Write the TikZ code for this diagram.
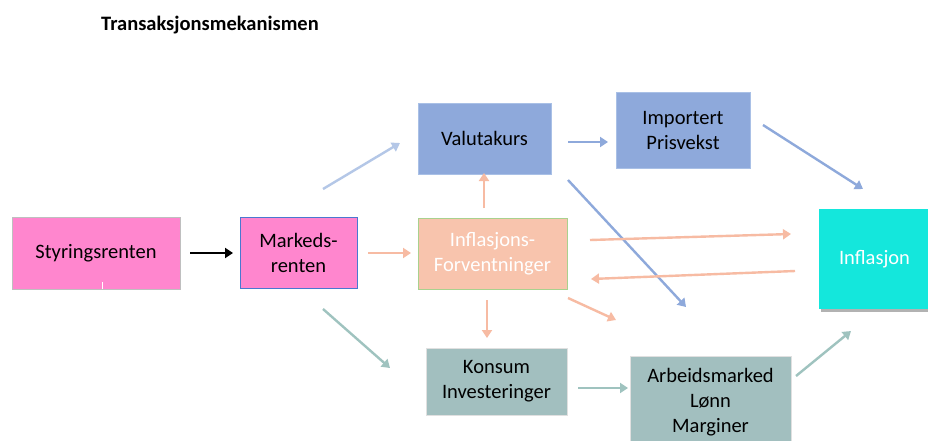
\documentclass[tikz,border=0pt]{standalone}
\usepackage{fontspec}
\setmainfont{Carlito}
\usetikzlibrary{arrows.meta}
\definecolor{pinkbox}{HTML}{FF86CE}
\definecolor{bluebox}{HTML}{8EA9DB}
\definecolor{blueedge}{HTML}{A9C0E6}
\definecolor{salmonbox}{HTML}{F8C4AD}
\definecolor{greenedge}{HTML}{A9D18E}
\definecolor{cyanbox}{HTML}{14E7DC}
\definecolor{tealbox}{HTML}{A2BFBF}
\definecolor{lightbluearrow}{HTML}{B4C7E7}
\definecolor{bluearrow}{HTML}{8EA9DB}
\definecolor{salmonarrow}{HTML}{F7BBA3}
\definecolor{tealarrow}{HTML}{9FC3BF}
\definecolor{markedge}{HTML}{4A78D0}
\tikzset{
  box/.style={rectangle, inner sep=0pt, align=center, font=\fontsize{20.5}{25}\selectfont, line width=0.8pt},
  arr/.style={line width=2.4pt, -{Triangle[length=8pt,width=10pt]}},
}
\begin{document}
\begin{tikzpicture}[x=1pt,y=-1pt]
\useasboundingbox (0,0) rectangle (928,440);
\fill[white] (0,0) rectangle (928,440);

\node[font=\fontsize{20.5}{24}\selectfont\bfseries, anchor=west, inner sep=0pt] (title) at (101,25) {Transaksjonsmekanismen};

\node[box, fill=pinkbox, draw=black!25, minimum width=168pt, minimum height=72pt] (styr) at (96,253) {Styringsrenten};
\draw[white, line width=1pt] (102,282) -- (102,289);
\node[box, fill=pinkbox, draw=markedge, minimum width=117pt, minimum height=71pt] (mark) at (298.5,252.5) {Markeds-\\renten};
\node[box, fill=bluebox, draw=blueedge, minimum width=133pt, minimum height=71pt] (valuta) at (484.5,138.5) {Valutakurs};
\node[box, fill=bluebox, draw=blueedge, minimum width=134pt, minimum height=76pt] (import) at (683,130) {Importert\\Prisvekst};
\node[box, fill=salmonbox, draw=greenedge, text=white, minimum width=149pt, minimum height=71pt] (forv) at (492.5,253.5) {Inflasjons-\\Forventninger};
\fill[black!30] (821,212) rectangle (932,312);
\node[box, fill=cyanbox, text=white, minimum width=111pt, minimum height=100pt] (infl) at (874.5,259) {Inflasjon};
\node[box, fill=tealbox, draw=black!12, minimum width=141pt, minimum height=67pt] (konsum) at (496.5,381.5) {Konsum\\Investeringer};
\node[box, fill=tealbox, draw=black!12, minimum width=161pt, minimum height=92pt] (arbeid) at (710.5,402) {Arbeidsmarked\\Lønn\\Marginer};

% arrow end points
\coordinate (a1s) at (190,253); \coordinate (a1e) at (233,253);
\coordinate (a2s) at (323,189); \coordinate (a2e) at (400,143);
\coordinate (a3s) at (368,253); \coordinate (a3e) at (411,253);
\coordinate (a4s) at (484,208); \coordinate (a4e) at (484,173);
\coordinate (a5s) at (568,142); \coordinate (a5e) at (608,142);
\coordinate (a6s) at (763,125); \coordinate (a6e) at (863,189);
\coordinate (a7s) at (568,180); \coordinate (a7e) at (686,307);
\coordinate (a8s) at (590,240); \coordinate (a8e) at (791,234);
\coordinate (a9s) at (795,271); \coordinate (a9e) at (591,279);
\coordinate (a10s) at (568,298); \coordinate (a10e) at (616,320);
\coordinate (a11s) at (487,300); \coordinate (a11e) at (487,338);
\coordinate (a12s) at (323,309); \coordinate (a12e) at (390,368);
\coordinate (a13s) at (578,388); \coordinate (a13e) at (628,388);
\coordinate (a14s) at (796,376); \coordinate (a14e) at (851,331);

\draw[arr, black] (a1s) -- (a1e);
\draw[arr, lightbluearrow] (a2s) -- (a2e);
\draw[arr, salmonarrow] (a3s) -- (a3e);
\draw[arr, salmonarrow] (a4s) -- (a4e);
\draw[arr, bluearrow] (a5s) -- (a5e);
\draw[arr, bluearrow] (a6s) -- (a6e);
\draw[arr, bluearrow] (a7s) -- (a7e);
\draw[arr, salmonarrow] (a8s) -- (a8e);
\draw[arr, salmonarrow] (a9s) -- (a9e);
\draw[arr, salmonarrow] (a10s) -- (a10e);
\draw[arr, salmonarrow] (a11s) -- (a11e);
\draw[arr, tealarrow] (a12s) -- (a12e);
\draw[arr, tealarrow] (a13s) -- (a13e);
\draw[arr, tealarrow] (a14s) -- (a14e);
\end{tikzpicture}
\end{document}
